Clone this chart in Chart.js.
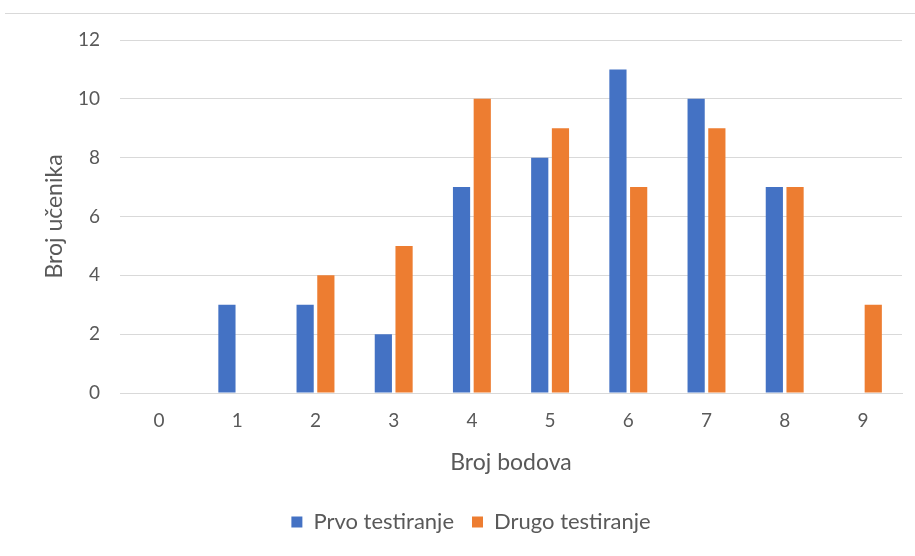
<!DOCTYPE html>
<html>
<head>
<meta charset="utf-8">
<script src="https://cdn.jsdelivr.net/npm/chart.js@4"></script>
<style>
  html, body { margin: 0; padding: 0; background: #fff; }
  #wrap { position: relative; width: 915px; height: 556px; }
  #topline { position: absolute; left: 5px; right: 0; top: 13px; border-top: 1px solid #d9d9d9; }
</style>
</head>
<body>
<div id="wrap">
  <div id="topline"></div>
  <canvas id="chart" width="915" height="556"></canvas>
</div>
<script>
// Broj bodova (categories) and number of students per test
const bodovi = ['0', '1', '2', '3', '4', '5', '6', '7', '8', '9'];
const prvoTestiranje = [0, 3, 3, 2, 7, 8, 11, 10, 7, 0];
const drugoTestiranje = [0, 0, 4, 5, 10, 9, 7, 9, 7, 3];
const yTicks = [0, 2, 4, 6, 8, 10, 12];

const fontFamily = "Lato, 'Open Sans', sans-serif";
const textColor = '#595959';
const gridColor = '#d9d9d9';

Chart.defaults.font.family = fontFamily;
Chart.defaults.color = textColor;

new Chart(document.getElementById('chart'), {
    type: 'bar',
    data: {
        labels: bodovi,
        datasets: [{
            label: 'Prvo testiranje',
            data: prvoTestiranje,
            backgroundColor: '#4472c4'
        },
        {
            label: 'Drugo testiranje',
            data: drugoTestiranje,
            backgroundColor: '#ed7d31'
        }]
    },
    options: {
        responsive: false,
        animation: false,
        categoryPercentage: 0.53,
        barPercentage: 0.83,
        layout: {
            padding: { left: 40, right: 13, top: 40, bottom: 13 }
        },
        plugins: {
            legend: {
                position: 'bottom',
                labels: {
                    boxWidth: 11,
                    boxHeight: 11,
                    padding: 18,
                    font: { size: 22 },
                    color: textColor
                }
            },
            tooltip: { enabled: false }
        },
        scales: {
            x: {
                grid: { display: false, drawTicks: false },
                border: { color: gridColor },
                ticks: { padding: 16, font: { size: 19 } },
                title: {
                    display: true,
                    text: 'Broj bodova',
                    font: { size: 23 },
                    padding: { top: 4, bottom: 17 }
                },
                afterFit: function (scale) { scale.height = 100; }
            },
            y: {
                min: 0,
                max: 12,
                afterBuildTicks: function (scale) {
                    scale.ticks = yTicks.map(v => ({ value: v }));
                },
                grid: { color: gridColor, drawTicks: false },
                border: { display: false },
                ticks: { padding: 20, font: { size: 19 } },
                title: {
                    display: true,
                    text: 'Broj učenika',
                    font: { size: 23 },
                    padding: { top: 1, bottom: 0 }
                },
                afterFit: function (scale) { scale.width = 80; }
            }
        }
    }
});
</script>
</body>
</html>
